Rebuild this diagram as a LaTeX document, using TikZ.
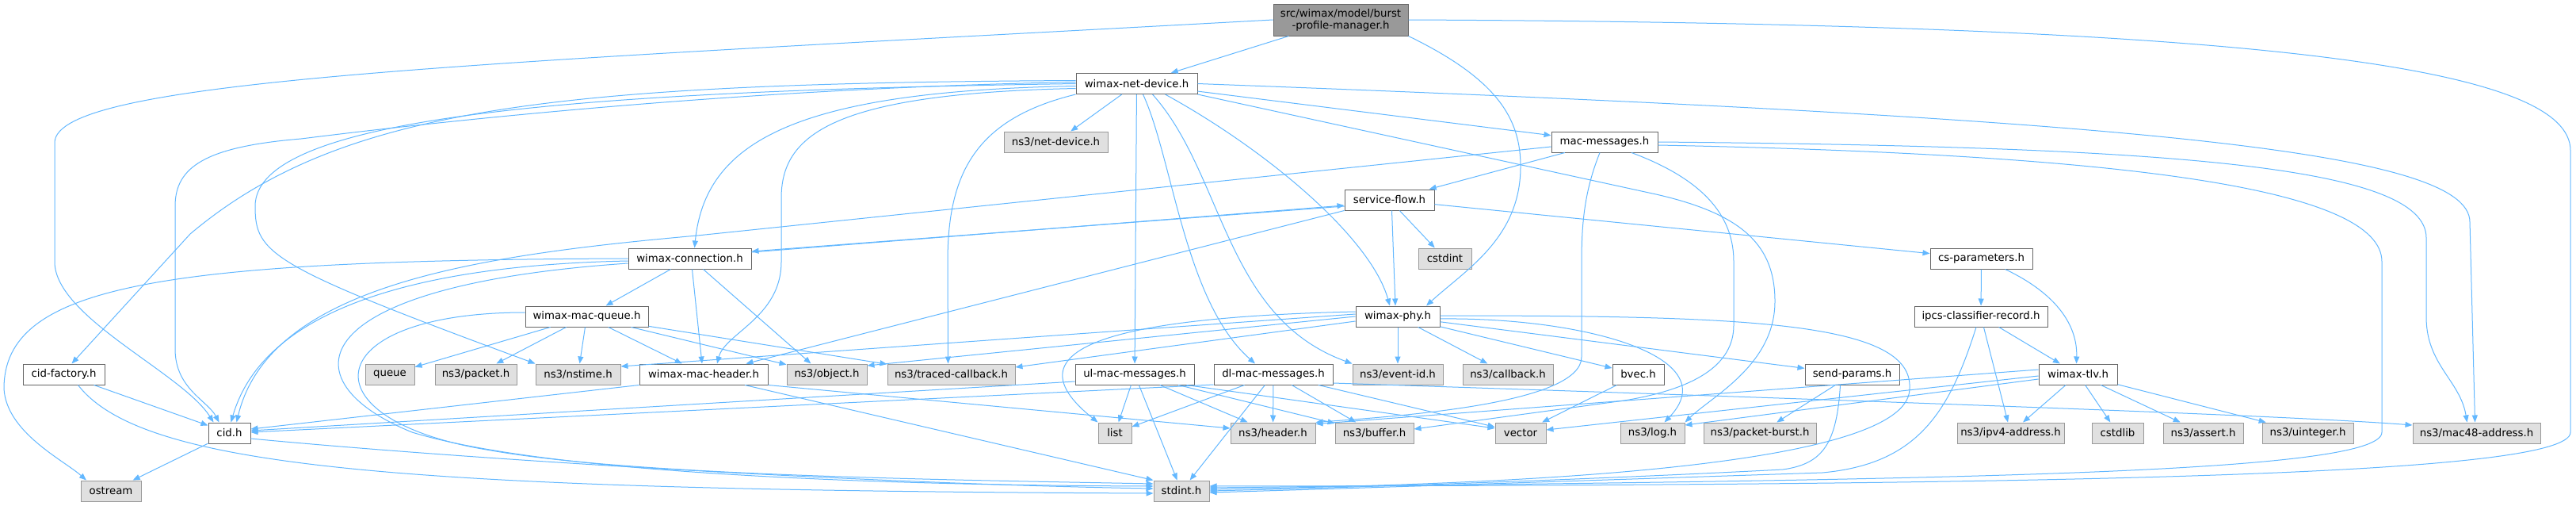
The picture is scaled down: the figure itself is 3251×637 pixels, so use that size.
\documentclass[tikz,border=0pt]{standalone}
\usepackage{fontspec}
\setmainfont{DejaVu Sans}
\usetikzlibrary{arrows.meta}
\definecolor{EdgeBlue}{HTML}{63B8FF}
\definecolor{BoxLine}{HTML}{666666}
\definecolor{SysLine}{HTML}{999999}
\definecolor{SysFill}{HTML}{E0E0E0}
\definecolor{RootFill}{HTML}{999999}

\begin{document}
\begin{tikzpicture}[
    x=1pt, y=-1pt,
    hdr/.style={rectangle, draw=BoxLine, fill=white, line width=1pt,
                minimum height=26, inner xsep=2pt, inner ysep=0pt,
                font=\fontsize{13.3}{15}\selectfont},
    sys/.style={hdr, draw=SysLine, fill=SysFill},
    root/.style={hdr, fill=RootFill, minimum height=40, align=center},
    dep/.style={-{Triangle[length=9pt,width=7pt]}, EdgeBlue, line width=1pt}
  ]
  \useasboundingbox (0,0) rectangle (3251,637);
  \fill[white] (0,0) rectangle (3251,637);

  % Row 0-3
  \node[root, minimum width=170] (burst) at (1692,25) {src/wimax/model/burst\\-profile-manager.h};
  \node[hdr, minimum width=153] (netdev) at (1434.5,105.5) {wimax-net-device.h};
  \node[sys, minimum width=131] (nsnetdev) at (1332.5,179) {ns3/net-device.h};
  \node[hdr, minimum width=134] (macmsg) at (2025,179) {mac-messages.h};
  \node[hdr, minimum width=113] (sflow) at (1753.5,252) {service-flow.h};

  % Row 4-5
  \node[hdr, minimum width=155] (wconn) at (870.5,326) {wimax-connection.h};
  \node[sys, minimum width=67] (cstdint) at (1823.5,326) {cstdint};
  \node[hdr, minimum width=129] (csparam) at (2500.5,326) {cs-parameters.h};
  \node[hdr, minimum width=155] (mqueue) at (740.5,399) {wimax-mac-queue.h};
  \node[hdr, minimum width=106] (wphy) at (1764,399) {wimax-phy.h};
  \node[hdr, minimum width=168] (ipcs) at (2500,399) {ipcs-classifier-record.h};

  % Row 6
  \node[hdr, minimum width=103] (cidfac) at (80.5,472) {cid-factory.h};
  \node[sys, minimum width=62] (queue) at (492,472) {queue};
  \node[sys, minimum width=103] (nspacket) at (600.5,472) {ns3/packet.h};
  \node[sys, minimum width=107] (nsnstime) at (729.5,472) {ns3/nstime.h};
  \node[hdr, minimum width=162] (mheader) at (888,472) {wimax-mac-header.h};
  \node[sys, minimum width=101] (nsobject) at (1043.5,472) {ns3/object.h};
  \node[sys, minimum width=161] (nstraced) at (1200.5,472) {ns3/traced-callback.h};
  \node[hdr, minimum width=150] (ulmac) at (1432,472) {ul-mac-messages.h};
  \node[hdr, minimum width=150] (dlmac) at (1607,472) {dl-mac-messages.h};
  \node[sys, minimum width=114] (nseventid) at (1764,472) {ns3/event-id.h};
  \node[sys, minimum width=114] (nscallback) at (1903,472) {ns3/callback.h};
  \node[hdr, minimum width=65] (bvec) at (2067.5,472) {bvec.h};
  \node[hdr, minimum width=119] (sendp) at (2337.5,472) {send-params.h};
  \node[hdr, minimum width=99] (wtlv) at (2622.5,472) {wimax-tlv.h};

  % Row 7-8
  \node[hdr, minimum width=53] (cid) at (289.5,546) {cid.h};
  \node[sys, minimum width=42] (list) at (1407,546) {list};
  \node[sys, minimum width=107] (nsheader) at (1606.5,546) {ns3/header.h};
  \node[sys, minimum width=99] (nsbuffer) at (1734.5,546) {ns3/buffer.h};
  \node[sys, minimum width=64] (vector) at (1919,546) {vector};
  \node[sys, minimum width=81] (nslog) at (2085.5,546) {ns3/log.h};
  \node[sys, minimum width=142] (nspburst) at (2221,546) {ns3/packet-burst.h};
  \node[sys, minimum width=135] (nsipv4) at (2537.5,546) {ns3/ipv4-address.h};
  \node[sys, minimum width=65] (cstdlib) at (2672.5,546) {cstdlib};
  \node[sys, minimum width=101] (nsassert) at (2780.5,546) {ns3/assert.h};
  \node[sys, minimum width=115] (nsuint) at (2912.5,546) {ns3/uinteger.h};
  \node[sys, minimum width=161] (nsmac48) at (3125.5,546) {ns3/mac48-address.h};
  \node[sys, minimum width=76] (ostream) at (140,619) {ostream};
  \node[sys, minimum width=70] (stdint) at (1491,619) {stdint.h};

  % burst-profile-manager.h
  \draw[dep] (burst) -- (netdev);
  \draw[dep] (burst.west) .. controls (600,80) and (69,100) .. (69,180) -- (69,330)
             .. controls (69,400) and (230,470) .. ([xshift=-20]cid.north);
  \draw[dep] (burst.south east) .. controls (1890,100) and (1919,150) .. (1919,210)
             .. controls (1919,300) and (1850,340) .. ([xshift=36]wphy.north);
  \draw[dep] (burst.east) .. controls (2900,30) and (3244,90) .. (3244,190) -- (3244,545)
             .. controls (3244,600) and (2600,612) .. ([yshift=6]stdint.east);

  % wimax-net-device.h
  \draw[dep] (netdev) -- (nsnetdev);
  \draw[dep] (netdev) -- (macmsg);
  \draw[dep] (netdev) -- (ulmac);
  \draw[dep] ([xshift=8]netdev.south) .. controls (1480,200) and (1495,380) .. ([xshift=-23]dlmac.north);
  \draw[dep] ([xshift=20]netdev.south) .. controls (1545,220) and (1545,400) .. (nseventid.north west);
  \draw[dep] ([xshift=36]netdev.south) .. controls (1600,190) and (1730,300) .. ([xshift=-10]wphy.north);
  \draw[dep] (netdev.south east) -- (2090,245) .. controls (2200,270) and (2240,310) .. (2240,380)
             .. controls (2240,460) and (2160,500) .. (nslog.north east);
  \draw[dep] (netdev.east) .. controls (2700,150) and (3117,190) .. (3117,280) -- ([xshift=-2]nsmac48.north);
  \draw[dep] (netdev.south west) .. controls (1230,150) and (1196,220) .. (1196,330) -- ([xshift=-4]nstraced.north);
  \draw[dep] ([yshift=-3]netdev.west) .. controls (1000,115) and (890,180) .. ([xshift=6]wconn.north);
  \draw[dep] ([yshift=-6]netdev.west) .. controls (1050,118) and (986,170) .. (986,250) -- (986,330)
             .. controls (986,400) and (915,420) .. ([xshift=17]mheader.north);
  \draw[dep] ([yshift=4]netdev.west) .. controls (700,105) and (430,135) .. (240,295) -- ([xshift=10]cidfac.north);
  \draw[dep] ([yshift=2]netdev.west) .. controls (900,112) and (500,160) .. (380,175)
             .. controls (260,185) and (221,210) .. (221,260) -- (221,440)
             .. controls (221,490) and (262,505) .. ([xshift=-13]cid.north);
  \draw[dep] (netdev.west) .. controls (700,115) and (322,150) .. (322,260)
             .. controls (322,320) and (340,335) .. (nsnstime.north west);

  % mac-messages.h
  \draw[dep] (macmsg) -- (sflow);
  \draw[dep] ([yshift=-6]macmsg.west) -- (880,297) .. controls (600,322) and (340,360) .. ([xshift=9]cid.north);
  \draw[dep] ([xshift=-6]macmsg.south) .. controls (2000,240) and (1996,280) .. (1996,330) -- (1996,450)
             .. controls (1996,510) and (1760,525) .. (nsheader.north east);
  \draw[dep] ([xshift=34]macmsg.south) .. controls (2160,230) and (2188,280) .. (2188,330) -- (2188,410)
             .. controls (2188,460) and (2140,490) .. (2050,505) -- ([yshift=5]nsbuffer.east);
  \draw[dep] (macmsg.east) .. controls (2750,185) and (3062,210) .. (3062,300) -- (3062,400)
             .. controls (3062,460) and (3105,480) .. ([xshift=-12]nsmac48.north);
  \draw[dep] ([yshift=-4]macmsg.east) .. controls (2700,195) and (3006,240) .. (3006,330) -- (3006,545)
             .. controls (3006,600) and (2400,605) .. ([yshift=4]stdint.east);

  % service-flow.h
  \draw[dep] ([yshift=8]wconn.east) -- ([yshift=-7]sflow.west);
  \draw[dep] ([yshift=-8]sflow.west) -- ([yshift=9]wconn.east);
  \draw[dep] (sflow) -- (csparam);
  \draw[dep] (sflow) -- (cstdint);
  \draw[dep] ([xshift=3]sflow.south) -- ([xshift=-3]wphy.north);
  \draw[dep] (sflow.south west) -- ([xshift=-28]mheader.north east);

  % wimax-connection.h
  \draw[dep] (wconn) -- (mqueue);
  \draw[dep] ([xshift=3]wconn.south) -- ([xshift=-2]mheader.north);
  \draw[dep] ([xshift=17]wconn.south) -- ([xshift=-20]nsobject.north);
  \draw[dep] ([yshift=-3]wconn.west) .. controls (500,335) and (330,400) .. ([xshift=2]cid.north);
  \draw[dep] (wconn.west) .. controls (200,328) and (5,360) .. (5,490)
             .. controls (8,545) and (80,580) .. ([xshift=-31]ostream.north);
  \draw[dep] ([yshift=-6]wconn.west) .. controls (380,360) and (360,480) .. (520,545)
             .. controls (700,600) and (1150,612) .. ([yshift=6]stdint.west);

  % wimax-mac-queue.h
  \draw[dep] (mqueue) -- (queue);
  \draw[dep] (mqueue) -- (nspacket);
  \draw[dep] (mqueue) -- (nsnstime);
  \draw[dep] (mqueue) -- (mheader);
  \draw[dep] (mqueue) -- (nsobject);
  \draw[dep] (mqueue) -- (nstraced);
  \draw[dep] ([yshift=5]mqueue.west) .. controls (400,394) and (380,530) .. (620,568)
             .. controls (800,600) and (1200,605) .. ([yshift=9]stdint.west);

  % wimax-mac-header.h, cid-factory.h, cid.h
  \draw[dep] (mheader.south west) -- ([yshift=5]cid.east);
  \draw[dep] (mheader.south east) -- ([yshift=6]nsheader.west);
  \draw[dep] ([xshift=52]mheader.south) -- (stdint.north west);
  \draw[dep] (cidfac) -- (cid);
  \draw[dep] ([xshift=18]cidfac.south) .. controls (180,590) and (500,618) .. ([yshift=-3]stdint.west);
  \draw[dep] (cid) -- (ostream);
  \draw[dep] ([yshift=-7]cid.east) .. controls (600,580) and (1100,610) .. ([yshift=3]stdint.west);

  % ul-mac-messages.h, dl-mac-messages.h
  \draw[dep] ([yshift=-9]ulmac.west) -- ([yshift=3]cid.east);
  \draw[dep] (ulmac) -- (list);
  \draw[dep] (ulmac) -- (stdint);
  \draw[dep] (ulmac) -- (nsheader);
  \draw[dep] (ulmac) -- (nsbuffer);
  \draw[dep] ([xshift=-10]ulmac.south east) -- ([yshift=6]vector.west);
  \draw[dep] ([yshift=-13]dlmac.west) -- ([yshift=1]cid.east);
  \draw[dep] (dlmac) -- (list);
  \draw[dep] (dlmac) -- (stdint);
  \draw[dep] (dlmac) -- (nsheader);
  \draw[dep] (dlmac) -- (nsbuffer);
  \draw[dep] (dlmac) -- (vector);
  \draw[dep] ([yshift=-11]dlmac.east) .. controls (2500,510) and (2900,525) .. ([yshift=10]nsmac48.west);

  % wimax-phy.h
  \draw[dep] ([yshift=6]wphy.west) .. controls (1400,400) and (1270,440) .. (list.north west);
  \draw[dep] ([yshift=3]wphy.west) -- ([yshift=10]nsnstime.east);
  \draw[dep] (wphy.west) -- ([yshift=11]nsobject.east);
  \draw[dep] ([yshift=-6]wphy.west) -- ([yshift=9]nstraced.east);
  \draw[dep] (wphy) -- (nseventid);
  \draw[dep] (wphy) -- (nscallback);
  \draw[dep] (wphy) -- (bvec);
  \draw[dep] (wphy) -- (sendp);
  \draw[dep] ([yshift=-3]wphy.east) .. controls (2000,400) and (2180,450) .. ([xshift=15]nslog.north);
  \draw[dep] ([yshift=1]wphy.east) .. controls (2200,398) and (2415,405) .. (2410,490)
             .. controls (2410,600) and (1800,612) .. ([yshift=2]stdint.east);

  % bvec.h, send-params.h
  \draw[dep] (bvec) -- (vector);
  \draw[dep] (sendp) -- (nspburst);
  \draw[dep] ([xshift=-15]sendp.south) .. controls (2318,560) and (2300,585) .. (2250,592)
             .. controls (2000,605) and (1700,615) .. (stdint.east);

  % cs-parameters.h, ipcs-classifier-record.h
  \draw[dep] (csparam) -- (ipcs);
  \draw[dep] ([xshift=30]csparam.south) .. controls (2595,370) and (2622,410) .. ([xshift=-2]wtlv.north);
  \draw[dep] (ipcs) -- (wtlv);
  \draw[dep] (ipcs) -- (nsipv4);
  \draw[dep] ([xshift=-6]ipcs.south) .. controls (2460,520) and (2420,585) .. (2300,596)
             .. controls (2000,606) and (1700,616) .. ([yshift=-2]stdint.east);

  % wimax-tlv.h
  \draw[dep] ([yshift=6]wtlv.west) -- ([yshift=-2]nsheader.north east);
  \draw[dep] ([yshift=-2]wtlv.west) -- ([yshift=4]vector.east);
  \draw[dep] ([yshift=-6]wtlv.west) -- ([yshift=10]nslog.east);
  \draw[dep] (wtlv) -- (nsipv4);
  \draw[dep] (wtlv) -- (cstdlib);
  \draw[dep] (wtlv) -- (nsassert);
  \draw[dep] (wtlv) -- (nsuint);
\end{tikzpicture}
\end{document}
